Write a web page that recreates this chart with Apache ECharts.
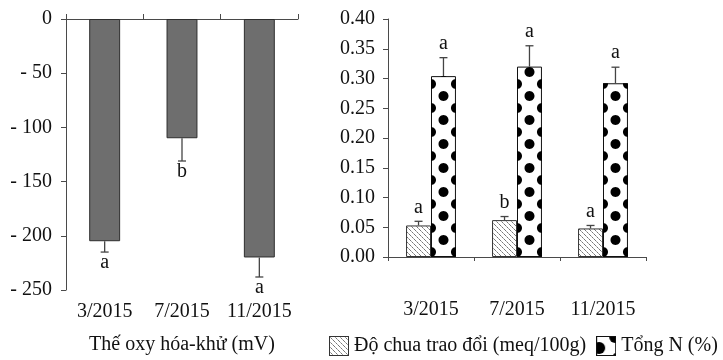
<!DOCTYPE html>
<html>
<head>
<meta charset="utf-8">
<script src="https://cdn.jsdelivr.net/npm/echarts@6/dist/echarts.min.js"></script>
<style>html,body{margin:0;padding:0;background:#fff;}#c{width:723px;height:360px;}</style>
</head>
<body>
<div id="c"></div>
<script>
// ---- data ----
const categories = ['3/2015', '7/2015', '11/2015'];
const redox = [-205, -110, -220];
const redoxErr = [10, 21, 18];
const redoxLetters = ['a', 'b', 'a'];
const acidity = [0.053, 0.062, 0.048];
const acidityErr = [0.007, 0.006, 0.005];
const acidityLetters = ['a', 'b', 'a'];
const totalN = [0.304, 0.320, 0.292];
const totalNErr = [0.031, 0.035, 0.027];
const totalNLetters = ['a', 'a', 'a'];
const redoxName = 'Thế oxy hóa-khử (mV)';
const acidName = 'Độ chua trao đổi (meq/100g)';
const nName = 'Tổng N (%)';

const FONT = "'Liberation Serif', 'Times New Roman', serif";
const AX = '#4a4a4a';
const BARW = 0.29;

function hatchCanvas() {
  const c = document.createElement('canvas');
  c.width = 5; c.height = 5;
  const g = c.getContext('2d');
  g.fillStyle = '#fff'; g.fillRect(0, 0, 5, 5);
  for (let i = 0; i < 5; i++) {
    g.fillStyle = (i % 2 === 0) ? '#777' : '#aaa';
    g.fillRect(i, i, 1, 1);
  }
  return c;
}
function hatchIcon() {
  const c = document.createElement('canvas');
  c.width = 20; c.height = 20;
  const g = c.getContext('2d');
  g.fillStyle = g.createPattern(hatchCanvas(), 'repeat');
  g.fillRect(0, 0, 20, 20);
  g.strokeStyle = '#333'; g.lineWidth = 1;
  g.strokeRect(0.5, 0.5, 19, 19);
  return c.toDataURL();
}
function dotIcon() {
  const c = document.createElement('canvas');
  c.width = 20; c.height = 20;
  const g = c.getContext('2d');
  g.fillStyle = '#fff'; g.fillRect(0, 0, 20, 20);
  g.save();
  g.beginPath(); g.rect(0, 0, 20, 20); g.clip();
  g.fillStyle = '#000';
  g.beginPath(); g.arc(3, 12, 6, 0, Math.PI * 2); g.fill();
  g.beginPath(); g.arc(19, 1, 6, 0, Math.PI * 2); g.fill();
  g.beginPath(); g.arc(20, 20, 3, 0, Math.PI * 2); g.fill();
  g.restore();
  g.strokeStyle = '#111'; g.lineWidth = 1;
  g.strokeRect(0.5, 0.5, 19, 19);
  return c.toDataURL();
}

function errRender(letters, dir, offsetFrac) {
  return function (params, api) {
    const i = params.dataIndex;
    const idx = api.value(0), val = api.value(1), err = api.value(2);
    const p0 = api.coord([idx, val]);
    const p1 = api.coord([idx, val + dir * err]);
    const bw = api.size([1, 0])[0];
    const x = p0[0] + offsetFrac * bw;
    const st = { stroke: '#444', lineWidth: 1.3 };
    return {
      type: 'group',
      children: [
        { type: 'line', shape: { x1: x, y1: p0[1], x2: x, y2: p1[1] }, style: st },
        { type: 'line', shape: { x1: x - 4, y1: p1[1], x2: x + 4, y2: p1[1] }, style: st },
        { type: 'text', style: {
            text: letters[i], x: x, y: p1[1] + (dir < 0 ? 11 : -14),
            align: 'center', verticalAlign: 'middle',
            font: '20px ' + FONT, fill: '#111' } }
      ]
    };
  };
}

function dotsRender(params, api) {
  const idx = api.value(0), v = api.value(1);
  const base = api.coord([idx, 0]);
  const top = api.coord([idx, v]);
  const bw = api.size([1, 0])[0];
  const w = bw * BARW;
  const left = base[0], right = base[0] + w;
  const cxm = (left + right) / 2;
  const r = 5, step = 24;
  const children = [];
  function circle(cx, cy) {
    if (cy + r < top[1] || cy - r > base[1]) return;
    const pts = [];
    for (let k = 0; k < 28; k++) {
      const a = k / 28 * Math.PI * 2;
      let px = cx + r * Math.cos(a), py = cy + r * Math.sin(a);
      px = Math.min(Math.max(px, left), right);
      py = Math.min(Math.max(py, top[1]), base[1]);
      pts.push([px, py]);
    }
    children.push({ type: 'polygon', shape: { points: pts }, style: { fill: '#000' } });
  }
  for (let k = 0; k < 40; k++) {
    const ye = base[1] - 5 - step * k;
    const yc = base[1] - 17 - step * k;
    if (ye + r < top[1] && yc + r < top[1]) break;
    circle(left, ye); circle(right, ye);
    circle(cxm, yc);
  }
  return { type: 'group', children: children };
}

const chart = echarts.init(document.getElementById('c'), null, { renderer: 'canvas' });
const hatch = hatchCanvas();

const option = {
  animation: false,
  backgroundColor: '#fff',
  textStyle: { fontFamily: FONT },
  grid: [
    { left: 66, top: 19, width: 232, height: 271 },
    { left: 388, top: 19, width: 258, height: 238 }
  ],
  xAxis: [
    { type: 'category', gridIndex: 0, position: 'top', data: categories,
      axisLine: { onZero: false, lineStyle: { color: AX, width: 1 } },
      axisTick: { show: true, length: 5, lineStyle: { color: AX } },
      axisLabel: { show: false }, splitLine: { show: false } },
    { type: 'category', gridIndex: 0, position: 'bottom', data: categories,
      axisLine: { show: false, onZero: false }, axisTick: { show: false },
      axisLabel: { interval: 0, margin: 12, fontSize: 20, color: '#111', fontFamily: FONT },
      name: redoxName, nameLocation: 'middle', nameGap: 45,
      nameTextStyle: { fontSize: 20, color: '#111', fontFamily: FONT } },
    { type: 'category', gridIndex: 1, position: 'bottom', data: categories,
      axisLine: { onZero: false, lineStyle: { color: AX, width: 1 } },
      axisTick: { show: true, length: 4, lineStyle: { color: AX } },
      axisLabel: { interval: 0, margin: 43, fontSize: 20, color: '#111', fontFamily: FONT } }
  ],
  yAxis: [
    { type: 'value', gridIndex: 0, min: -250, max: 0, interval: 50,
      axisLine: { show: true, lineStyle: { color: AX } },
      axisTick: { show: true, length: 5, lineStyle: { color: AX } },
      splitLine: { show: false },
      axisLabel: { margin: 14, fontSize: 20, color: '#111', fontFamily: FONT,
        formatter: v => v === 0 ? '0' : '- ' + Math.abs(v) } },
    { type: 'value', gridIndex: 1, min: 0, max: 0.4, interval: 0.05,
      axisLine: { show: true, lineStyle: { color: AX } },
      axisTick: { show: true, length: 5, lineStyle: { color: AX } },
      splitLine: { show: false },
      axisLabel: { margin: 13, fontSize: 20, color: '#111', fontFamily: FONT,
        formatter: v => v.toFixed(2) } }
  ],
  legend: {
    left: 329, top: 336, width: 420, padding: 0, itemWidth: 20, itemHeight: 20, itemGap: 10,
    textStyle: { fontSize: 20, color: '#111', fontFamily: FONT },
    data: [
      { name: acidName, icon: 'image://' + hatchIcon() },
      { name: nName, icon: 'image://' + dotIcon() }
    ]
  },
  series: [
    { type: 'bar', name: redoxName, xAxisIndex: 0, yAxisIndex: 0, data: redox, barWidth: '40%',
      itemStyle: { color: '#6e6e6e', borderColor: '#2e2e2e', borderWidth: 1 } },
    { type: 'custom', name: 'redoxErr', xAxisIndex: 0, yAxisIndex: 0,
      data: redox.map((v, i) => [i, v, redoxErr[i]]),
      renderItem: errRender(redoxLetters, -1, 0), z: 5 },
    { type: 'bar', name: acidName, xAxisIndex: 2, yAxisIndex: 1, data: acidity,
      barWidth: (BARW * 100) + '%', barGap: '0%',
      itemStyle: { color: { image: hatch, repeat: 'repeat' }, borderColor: '#333', borderWidth: 1 } },
    { type: 'bar', name: nName, xAxisIndex: 2, yAxisIndex: 1, data: totalN,
      barWidth: (BARW * 100) + '%', barGap: '0%',
      itemStyle: { color: '#fff', borderColor: '#111', borderWidth: 1 } },
    { type: 'custom', name: 'nDots', xAxisIndex: 2, yAxisIndex: 1,
      data: totalN.map((v, i) => [i, v]), renderItem: dotsRender, z: 3 },
    { type: 'custom', name: 'acidErr', xAxisIndex: 2, yAxisIndex: 1,
      data: acidity.map((v, i) => [i, v, acidityErr[i]]),
      renderItem: errRender(acidityLetters, 1, -BARW / 2), z: 5 },
    { type: 'custom', name: 'nErr', xAxisIndex: 2, yAxisIndex: 1,
      data: totalN.map((v, i) => [i, v, totalNErr[i]]),
      renderItem: errRender(totalNLetters, 1, BARW / 2), z: 5 }
  ]
};
chart.setOption(option);
</script>
</body>
</html>
